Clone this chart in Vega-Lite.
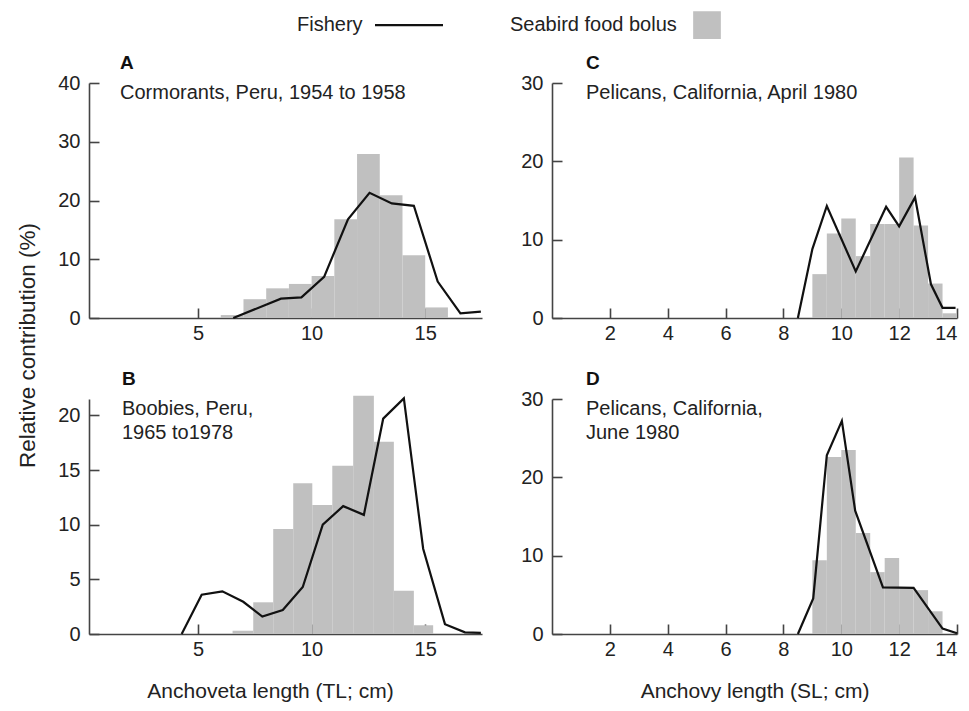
{
  "$schema": "https://vega.github.io/schema/vega-lite/v6.json",
  "background": "white",
  "padding": {"left": 16, "top": 11, "right": 0, "bottom": 5},
  "datasets": {
    "bolus": [
      {"p": "A", "a": 6, "b": 7, "v": 0.5},
      {"p": "A", "a": 7, "b": 8, "v": 3.2},
      {"p": "A", "a": 8, "b": 9, "v": 5.05},
      {"p": "A", "a": 9, "b": 10, "v": 5.8},
      {"p": "A", "a": 10, "b": 11, "v": 7.15},
      {"p": "A", "a": 11, "b": 12, "v": 16.8},
      {"p": "A", "a": 12, "b": 13, "v": 27.9},
      {"p": "A", "a": 13, "b": 14, "v": 20.9},
      {"p": "A", "a": 14, "b": 15, "v": 10.7},
      {"p": "A", "a": 15, "b": 16, "v": 1.8},
      {"p": "B", "a": 6.52, "b": 7.43, "v": 0.3},
      {"p": "B", "a": 7.43, "b": 8.31, "v": 2.9},
      {"p": "B", "a": 8.31, "b": 9.19, "v": 9.6},
      {"p": "B", "a": 9.19, "b": 10.03, "v": 13.8},
      {"p": "B", "a": 10.03, "b": 10.91, "v": 11.8},
      {"p": "B", "a": 10.91, "b": 11.83, "v": 15.4},
      {"p": "B", "a": 11.83, "b": 12.74, "v": 21.8},
      {"p": "B", "a": 12.74, "b": 13.62, "v": 17.6},
      {"p": "B", "a": 13.62, "b": 14.5, "v": 3.95},
      {"p": "B", "a": 14.5, "b": 15.35, "v": 0.8},
      {"p": "C", "a": 9, "b": 9.5, "v": 5.6},
      {"p": "C", "a": 9.5, "b": 10, "v": 10.8},
      {"p": "C", "a": 10, "b": 10.5, "v": 12.7},
      {"p": "C", "a": 10.5, "b": 11, "v": 7.9},
      {"p": "C", "a": 11, "b": 11.5, "v": 12.0},
      {"p": "C", "a": 11.5, "b": 12, "v": 12.0},
      {"p": "C", "a": 12, "b": 12.5, "v": 20.5},
      {"p": "C", "a": 12.5, "b": 13, "v": 11.8},
      {"p": "C", "a": 13, "b": 13.5, "v": 4.4},
      {"p": "C", "a": 13.5, "b": 14, "v": 0.6},
      {"p": "D", "a": 9, "b": 9.5, "v": 9.4},
      {"p": "D", "a": 9.5, "b": 10, "v": 22.6},
      {"p": "D", "a": 10, "b": 10.5, "v": 23.5},
      {"p": "D", "a": 10.5, "b": 11, "v": 12.9},
      {"p": "D", "a": 11, "b": 11.5, "v": 7.9},
      {"p": "D", "a": 11.5, "b": 12, "v": 9.7},
      {"p": "D", "a": 12, "b": 12.5, "v": 5.9},
      {"p": "D", "a": 12.5, "b": 13, "v": 5.6},
      {"p": "D", "a": 13, "b": 13.5, "v": 2.9}
    ],
    "fishery": [
      {"p": "A", "a": 6.55, "v": 0},
      {"p": "A", "a": 8.65, "v": 3.3},
      {"p": "A", "a": 9.55, "v": 3.5},
      {"p": "A", "a": 10.55, "v": 7.0},
      {"p": "A", "a": 11.6, "v": 16.8},
      {"p": "A", "a": 12.55, "v": 21.3},
      {"p": "A", "a": 13.53, "v": 19.5},
      {"p": "A", "a": 14.5, "v": 19.1},
      {"p": "A", "a": 15.55, "v": 6.2},
      {"p": "A", "a": 16.55, "v": 0.8},
      {"p": "A", "a": 17.45, "v": 1.1},
      {"p": "B", "a": 4.28, "v": 0},
      {"p": "B", "a": 5.16, "v": 3.6},
      {"p": "B", "a": 6.07, "v": 3.9},
      {"p": "B", "a": 6.99, "v": 2.95},
      {"p": "B", "a": 7.83, "v": 1.6},
      {"p": "B", "a": 8.73, "v": 2.2},
      {"p": "B", "a": 9.61, "v": 4.3},
      {"p": "B", "a": 10.49, "v": 10.0},
      {"p": "B", "a": 11.39, "v": 11.7},
      {"p": "B", "a": 12.3, "v": 10.9},
      {"p": "B", "a": 13.15, "v": 19.7},
      {"p": "B", "a": 14.06, "v": 21.55},
      {"p": "B", "a": 14.91, "v": 7.8},
      {"p": "B", "a": 15.87, "v": 0.9},
      {"p": "B", "a": 16.75, "v": 0.15},
      {"p": "B", "a": 17.45, "v": 0.1},
      {"p": "C", "a": 8.5, "v": 0},
      {"p": "C", "a": 9.0, "v": 8.8},
      {"p": "C", "a": 9.5, "v": 14.3},
      {"p": "C", "a": 10.5, "v": 5.95},
      {"p": "C", "a": 11.55, "v": 14.2},
      {"p": "C", "a": 12.0, "v": 11.7},
      {"p": "C", "a": 12.55, "v": 15.4},
      {"p": "C", "a": 13.1, "v": 4.3},
      {"p": "C", "a": 13.5, "v": 1.3},
      {"p": "C", "a": 13.95, "v": 1.3},
      {"p": "D", "a": 8.5, "v": 0},
      {"p": "D", "a": 9.03, "v": 4.55},
      {"p": "D", "a": 9.5, "v": 22.8},
      {"p": "D", "a": 10.02, "v": 27.2},
      {"p": "D", "a": 10.48, "v": 15.75},
      {"p": "D", "a": 11.44, "v": 5.95},
      {"p": "D", "a": 12.5, "v": 5.9},
      {"p": "D", "a": 13.5, "v": 0.7},
      {"p": "D", "a": 14.0, "v": 0.1}
    ]
  },
  "columns": 2,
  "spacing": {"row": 81, "column": 70},
  "bounds": "flush",
  "concat": [
    {
      "width": 393, "height": 235,
      "title": {"text": "A", "subtitle": "Cormorants, Peru, 1954 to 1958", "offset": -29.5, "dx": 31},
      "layer": [
        {
          "data": {"name": "bolus"},
          "transform": [{"filter": "datum.p === 'A'"}],
          "mark": {"type": "bar"},
          "encoding": {
            "x": {"field": "a", "type": "quantitative", "scale": {"domain": [0.2, 17.5], "nice": false, "zero": false}, "axis": {"values": [5, 10, 15], "title": null}},
            "x2": {"field": "b"},
            "y": {"field": "v", "type": "quantitative", "scale": {"domain": [0, 40], "nice": false}, "axis": {"values": [0, 10, 20, 30, 40], "title": "Relative contribution (%)", "titleFontSize": 22.5, "titleX": -55, "titleY": 262, "titleAngle": -90, "titleBaseline": "alphabetic", "titleAlign": "center"}},
            "y2": {"datum": 0},
            "color": {
              "datum": "Seabird food bolus",
              "scale": {"domain": ["Fishery", "Seabird food bolus"], "range": ["#111111", "#c0c0c0"]},
              "legend": {
                "orient": "none", "legendX": 208, "legendY": -71.3, "direction": "horizontal", "title": null,
                "symbolSize": 676, "labelFontSize": 20, "labelColor": "#222222", "labelLimit": 400, "columnPadding": 62, "labelOffset": 0,
                "encode": {
                  "symbols": {"update": {
                    "shape": {"signal": "datum.value === 'Fishery' ? 'M-1,-0.37M-1,0.37M-1,0L1,0' : 'square'"},
                    "size": {"signal": "datum.value === 'Fishery' ? 4624 : 650"},
                    "x": {"signal": "datum.value === 'Fishery' ? 112 : 197"},
                    "y": {"value": 13},
                    "stroke": {"signal": "datum.value === 'Fishery' ? '#111111' : 'transparent'"},
                    "fill": {"signal": "datum.value === 'Fishery' ? 'transparent' : '#c0c0c0'"},
                    "strokeWidth": {"value": 2.2},
                    "opacity": {"value": 1}
                  }},
                  "labels": {"update": {"x": {"value": 0}, "y": {"value": 13}, "align": {"value": "left"}}}
                }
              }
            }
          }
        },
        {
          "data": {"name": "fishery"},
          "transform": [{"filter": "datum.p === 'A'"}],
          "mark": {"type": "line", "strokeWidth": 2.2},
          "encoding": {
            "x": {"field": "a", "type": "quantitative"},
            "y": {"field": "v", "type": "quantitative"},
            "color": {"datum": "Fishery"}
          }
        }
      ]
    },
    {
      "width": 405, "height": 235,
      "title": {"text": "C", "subtitle": "Pelicans, California, April 1980", "offset": -29.5, "dx": 34},
      "layer": [
        {
          "data": {"name": "bolus"},
          "transform": [{"filter": "datum.p === 'C'"}],
          "mark": {"type": "bar", "color": "#c0c0c0"},
          "encoding": {
            "x": {"field": "a", "type": "quantitative", "scale": {"domain": [0, 14], "nice": false}, "axis": {"values": [2, 4, 6, 8, 10, 12, 14], "title": null}},
            "x2": {"field": "b"},
            "y": {"field": "v", "type": "quantitative", "scale": {"domain": [0, 30], "nice": false}, "axis": {"values": [0, 10, 20, 30], "title": null}},
            "y2": {"datum": 0}
          }
        },
        {
          "data": {"name": "fishery"},
          "transform": [{"filter": "datum.p === 'C'"}],
          "mark": {"type": "line", "strokeWidth": 2.2, "color": "#111111"},
          "encoding": {
            "x": {"field": "a", "type": "quantitative"},
            "y": {"field": "v", "type": "quantitative"}
          }
        }
      ]
    },
    {
      "width": 393, "height": 235,
      "title": {"text": "B", "subtitle": ["Boobies, Peru,", "1965 to1978"], "offset": -49, "dx": 33},
      "layer": [
        {
          "data": {"name": "bolus"},
          "transform": [{"filter": "datum.p === 'B'"}],
          "mark": {"type": "bar", "color": "#c0c0c0"},
          "encoding": {
            "x": {"field": "a", "type": "quantitative", "scale": {"domain": [0.2, 17.5], "nice": false, "zero": false}, "axis": {"values": [5, 10, 15], "title": "Anchoveta length (TL; cm)", "titleFontSize": 21, "titleX": 181, "titleY": 63, "titleBaseline": "alphabetic", "titleAlign": "center"}},
            "x2": {"field": "b"},
            "y": {"field": "v", "type": "quantitative", "scale": {"domain": [0, 21.5], "nice": false}, "axis": {"values": [0, 5, 10, 15, 20], "title": null}},
            "y2": {"datum": 0}
          }
        },
        {
          "data": {"name": "fishery"},
          "transform": [{"filter": "datum.p === 'B'"}],
          "mark": {"type": "line", "strokeWidth": 2.2, "color": "#111111"},
          "encoding": {
            "x": {"field": "a", "type": "quantitative"},
            "y": {"field": "v", "type": "quantitative"}
          }
        }
      ]
    },
    {
      "width": 405, "height": 235,
      "title": {"text": "D", "subtitle": ["Pelicans, California,", "June 1980"], "offset": -53.5, "dx": 34},
      "layer": [
        {
          "data": {"name": "bolus"},
          "transform": [{"filter": "datum.p === 'D'"}],
          "mark": {"type": "bar", "color": "#c0c0c0"},
          "encoding": {
            "x": {"field": "a", "type": "quantitative", "scale": {"domain": [0, 14], "nice": false}, "axis": {"values": [2, 4, 6, 8, 10, 12, 14], "title": "Anchovy length (SL; cm)", "titleFontSize": 21, "titleY": 63, "titleBaseline": "alphabetic", "titleAlign": "center"}},
            "x2": {"field": "b"},
            "y": {"field": "v", "type": "quantitative", "scale": {"domain": [0, 30], "nice": false}, "axis": {"values": [0, 10, 20, 30], "title": null}},
            "y2": {"datum": 0}
          }
        },
        {
          "data": {"name": "fishery"},
          "transform": [{"filter": "datum.p === 'D'"}],
          "mark": {"type": "line", "strokeWidth": 2.2, "color": "#111111"},
          "encoding": {
            "x": {"field": "a", "type": "quantitative"},
            "y": {"field": "v", "type": "quantitative"}
          }
        }
      ]
    }
  ],
  "config": {
    "font": "Liberation Sans",
    "view": {"stroke": null},
    "axis": {
      "grid": false,
      "domainColor": "#444444", "domainWidth": 1.6,
      "tickColor": "#444444", "tickWidth": 1.6, "tickSize": -10,
      "labelFontSize": 20, "labelColor": "#222222", "labelFont": "Liberation Sans",
      "titleFontSize": 20, "titleFontWeight": "normal", "titleColor": "#222222", "titleFont": "Liberation Sans"
    },
    "axisX": {"labelPadding": 15.5},
    "axisY": {"labelPadding": 19},
    "legend": {"labelFont": "Liberation Sans"},
    "title": {
      "anchor": "start", "frame": "group", "font": "Liberation Sans",
      "fontSize": 19, "fontWeight": "bold", "color": "#111111",
      "subtitleFont": "Liberation Sans", "subtitleFontSize": 20, "subtitleColor": "#222222",
      "subtitlePadding": 10, "subtitleLineHeight": 24
    }
  }
}
